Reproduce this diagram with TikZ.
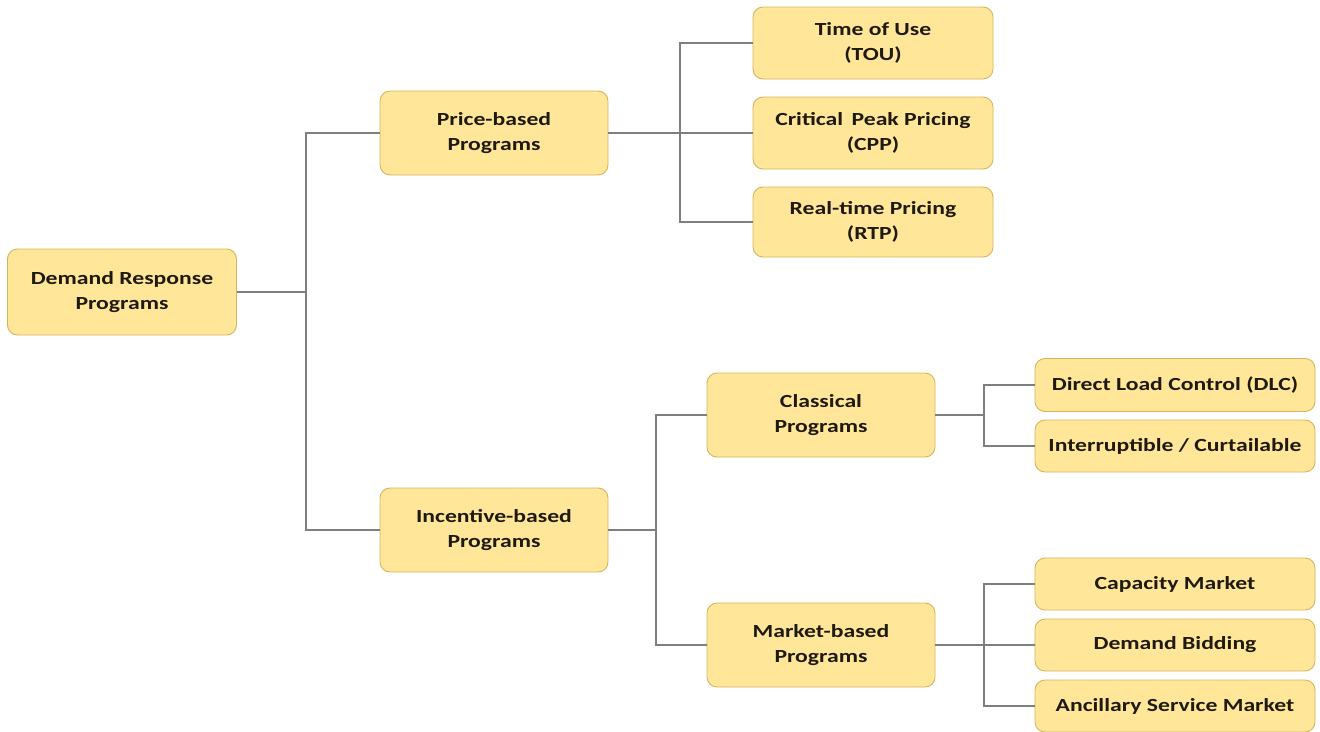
\documentclass[tikz,border=0pt]{standalone}
\usepackage{fontspec}
\setmainfont{Carlito}[FakeStretch=1.28]
\definecolor{boxfill}{HTML}{FFE699}
\definecolor{boxline}{HTML}{D4B45C}
\definecolor{wire}{HTML}{7F7F7F}
\definecolor{ink}{HTML}{1E1A10}
\begin{document}
\begin{tikzpicture}[x=1pt,y=-1pt,
  box/.style={draw=boxline, line width=0.9pt, fill=boxfill, rounded corners=10pt,
    align=center, inner sep=2pt, text=ink, font=\fontsize{18.5}{25}\selectfont\bfseries},
  conn/.style={draw=wire, line width=1.8pt}]
\useasboundingbox (0,0) rectangle (1320,731);

% level 0
\node[box, minimum width=229, minimum height=86] (drp) at (122,292) {Demand Response\\Programs};

% level 1
\node[box, minimum width=228, minimum height=84] (price) at (494,133) {Price-based\\Programs};
\node[box, minimum width=228, minimum height=84] (incent) at (494,530) {Incentive-based\\Programs};

% price-based branch
\node[box, minimum width=240, minimum height=72] (tou) at (873,43) {Time of Use\\(TOU)};
\node[box, minimum width=240, minimum height=72] (cpp) at (873,133) {Critical\, Peak Pricing\\(CPP)};
\node[box, minimum width=240, minimum height=70] (rtp) at (873,222) {Real-time Pricing\\(RTP)};

% incentive-based branch
\node[box, minimum width=228, minimum height=84] (classic) at (821,415) {Classical\\Programs};
\node[box, minimum width=228, minimum height=84] (market) at (821,645) {Market-based\\Programs};

\node[box, minimum width=280, minimum height=53] (dlc) at (1175,385) {Direct Load Control (DLC)};
\node[box, minimum width=280, minimum height=52] (intr) at (1175,446) {Interruptible / Curtailable};

\node[box, minimum width=280, minimum height=52] (cap) at (1175,584) {Capacity Market};
\node[box, minimum width=280, minimum height=52] (bid) at (1175,645) {Demand Bidding};
\node[box, minimum width=280, minimum height=52] (anc) at (1175,706) {Ancillary Service Market};

% vertical bus positions
\coordinate (b1) at (306,0);
\coordinate (b2) at (680,0);
\coordinate (b3) at (656,0);
\coordinate (b4) at (984,0);

% connectors
\draw[conn] (drp.east) -- (drp.east -| b1);
\draw[conn] (price.west) -| (b1 |- drp.east) |- (incent.west);

\draw[conn] (price.east) -- (cpp.west);
\draw[conn] (tou.west) -| (b2 |- cpp.west) |- (rtp.west);

\draw[conn] (incent.east) -- (incent.east -| b3);
\draw[conn] (classic.west) -| (b3 |- incent.east) |- (market.west);

\draw[conn] (classic.east) -- (classic.east -| b4);
\draw[conn] (dlc.west) -| (b4 |- classic.east) |- (intr.west);

\draw[conn] (market.east) -- (bid.west);
\draw[conn] (cap.west) -| (b4 |- bid.west) |- (anc.west);
\end{tikzpicture}
\end{document}
